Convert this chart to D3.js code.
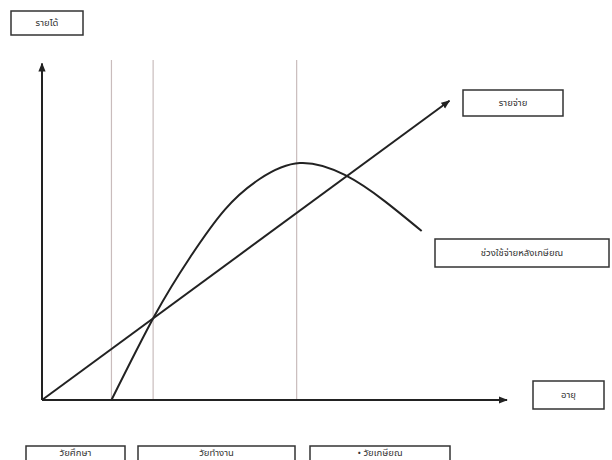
<!DOCTYPE html>
<html>
<head>
<meta charset="utf-8">
<script src="https://cdn.jsdelivr.net/npm/d3@7"></script>
<style>
  body { margin: 0; background: #fff; }
  svg { display: block; }
  .lbl { font-family: "Noto Sans Thai", Tahoma, "Noto Sans", sans-serif; font-size: 9.5px; fill: #333; }
</style>
</head>
<body>
<svg id="chart" width="612" height="460"></svg>
<script>
// life-cycle income / expense sketch (values on a 0-100 scale)
const stageBounds = [15, 24, 55];            // ages where the stages change
const expenseLine = [[0, 0], [88, 88]];      // รายจ่าย : straight line
const incomeAge = [15, 24.4, 32, 39.5, 47, 55.7, 65.4, 74, 82];
const incomeValue = [0, 25, 42, 56, 65, 69.7, 66.2, 58.5, 49.7];
const stageLabels = ["วัยศึกษา", "วัยทำงาน", "•   วัยเกษียณ"];

const svg = d3.select("#chart");
const margin = {left: 42, bottom: 60, top: 60, right: 107};
const width = 612, height = 460;

const x = d3.scaleLinear().domain([0, 100]).range([margin.left, width - margin.right]);
const y = d3.scaleLinear().domain([0, 100]).range([height - margin.bottom, margin.top]);

const defs = svg.append("defs");
defs.append("marker")
    .attr("id", "arrow")
    .attr("viewBox", "0 0 10 10")
    .attr("refX", 9).attr("refY", 5)
    .attr("markerWidth", 4.5).attr("markerHeight", 4.5)
    .attr("orient", "auto")
    .append("path")
    .attr("d", "M0,1 L10,5 L0,9 Z")
    .attr("fill", "#222");

// stage separators
svg.append("g").selectAll("line")
    .data(stageBounds)
    .join("line")
    .attr("x1", d => x(d)).attr("x2", d => x(d))
    .attr("y1", y(0)).attr("y2", y(100))
    .attr("stroke", "#c9bcbc")
    .attr("stroke-width", 1.2);

// axes
svg.append("line")
    .attr("x1", x(0)).attr("y1", y(0))
    .attr("x2", x(100) + 2).attr("y2", y(0))
    .attr("stroke", "#222").attr("stroke-width", 2)
    .attr("marker-end", "url(#arrow)");
svg.append("line")
    .attr("x1", x(0)).attr("y1", y(0))
    .attr("x2", x(0)).attr("y2", y(99))
    .attr("stroke", "#222").attr("stroke-width", 2)
    .attr("marker-end", "url(#arrow)");

// expense line
svg.append("path")
    .datum(expenseLine)
    .attr("d", d3.line().x(d => x(d[0])).y(d => y(d[1])))
    .attr("fill", "none")
    .attr("stroke", "#222").attr("stroke-width", 2)
    .attr("marker-end", "url(#arrow)");

// income curve
const incomeData = incomeAge.map((a, i) => ({age: a, value: incomeValue[i]}));
svg.append("path")
    .datum(incomeData)
    .attr("d", d3.line().curve(d3.curveNatural).x(d => x(d.age)).y(d => y(d.value)))
    .attr("fill", "none")
    .attr("stroke", "#222").attr("stroke-width", 2);

// boxed labels
function boxLabel(bx, by, bw, bh, text, ty) {
    const g = svg.append("g");
    g.append("rect")
        .attr("x", bx).attr("y", by)
        .attr("width", bw).attr("height", bh)
        .attr("fill", "#fff")
        .attr("stroke", "#333").attr("stroke-width", 1.5);
    g.append("text")
        .attr("class", "lbl")
        .attr("x", bx + bw / 2).attr("y", ty != null ? ty : by + bh / 2 + 3)
        .attr("text-anchor", "middle")
        .text(text);
}

boxLabel(11, 11, 72, 24, "รายได้");
boxLabel(463, 90, 100, 26, "รายจ่าย");
boxLabel(435, 239, 174, 28, "ช่วงใช้จ่ายหลังเกษียณ");
boxLabel(533, 381, 71, 28, "อายุ");

const bottomBoxes = [[26, 99], [138, 157], [310, 140]];
bottomBoxes.forEach((b, i) => boxLabel(b[0], 446, b[1], 26, stageLabels[i], 456));
</script>
</body>
</html>
